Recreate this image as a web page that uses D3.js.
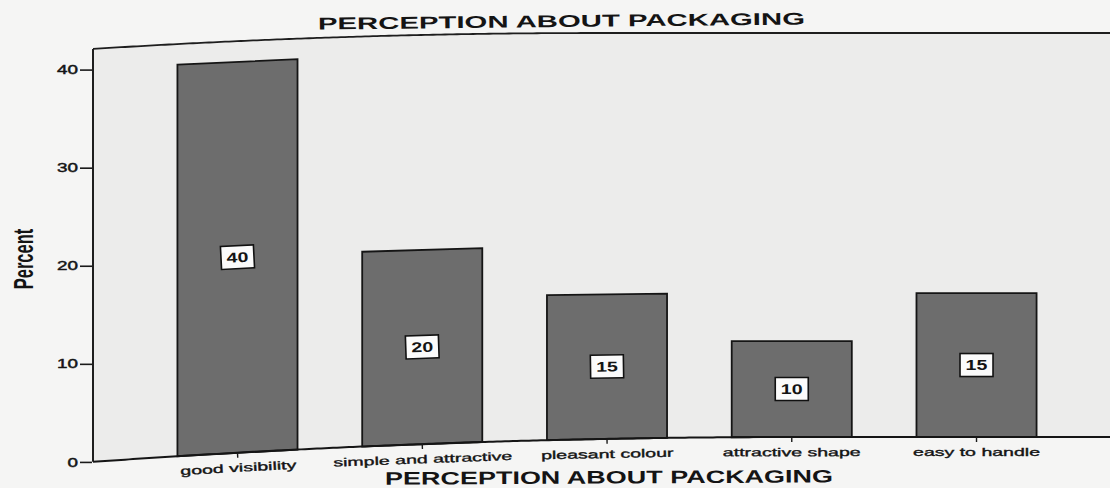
<!DOCTYPE html>
<html>
<head>
<meta charset="utf-8">
<script src="https://cdn.jsdelivr.net/npm/d3@7"></script>
<style>
  html, body { margin: 0; padding: 0; background: #f5f5f4; }
  svg { display: block; }
  text { font-family: "Liberation Sans", Arial, Helvetica, sans-serif; fill: #141414; }
</style>
</head>
<body>
<svg id="chart" width="1110" height="488"></svg>
<script>
// ---- data ----
const categories = ["good visibility", "simple and attractive", "pleasant colour", "attractive shape", "easy to handle"];
const percents = [40, 20, 15, 10, 15];
const yTicks = [0, 10, 20, 30, 40];
const chartTitle = "PERCEPTION ABOUT PACKAGING";
const xAxisTitle = "PERCEPTION ABOUT PACKAGING";
const yAxisTitle = "Percent";

// ---- layout ----
const plot = { left: 93, right: 1121, top: 33, bottom: 437 };
const svg = d3.select("#chart");

const x = d3.scaleBand()
  .domain(categories)
  .range([plot.left, plot.right])
  .paddingInner(0.35)
  .paddingOuter(0.457);

const y = d3.scaleLinear()
  .domain([0, 42.1])
  .range([plot.bottom, plot.top]);

// Gentle curl of the sheet toward its left edge: everything is shifted down
// a little more the further left it sits, the bottom edge more than the top.
function bend(px, py) {
  const t = Math.max(0, 600 - px), b = Math.max(0, 800 - px);
  const offTop = 6.2e-5 * t * t;
  const offBot = 4.97e-5 * b * b;
  return py + offTop + (offBot - offTop) * (py - plot.top) / (plot.bottom - plot.top);
}
const pt = (px, py) => [px, bend(px, py)];
const slopeAt = (px, py) => (bend(px + 1, py) - bend(px - 1, py)) / 2;
const deg = s => Math.atan(s) * 180 / Math.PI;
const line = d3.line();

function sampleX(x0, x1) {
  const xs = d3.range(x0, x1, 4);
  xs.push(x1);
  return xs;
}

// ---- plot background ----
const topEdge = sampleX(plot.left, plot.right).map(px => pt(px, plot.top));
const bottomEdge = sampleX(plot.left, plot.right).reverse().map(px => pt(px, plot.bottom));
svg.append("path")
  .attr("d", line(topEdge.concat(bottomEdge)) + "Z")
  .attr("fill", "#ececeb");

// ---- bars ----
svg.append("g").selectAll("path")
  .data(categories)
  .join("path")
  .attr("d", (d, i) => {
    const x0 = x(d), x1 = x0 + x.bandwidth();
    const v = y(percents[i]), z = y(0);
    return line([pt(x0, v), pt(x1, v), pt(x1, z), pt(x0, z)]) + "Z";
  })
  .attr("fill", "#6d6d6d")
  .attr("stroke", "#151515")
  .attr("stroke-width", 1.8)
  .attr("stroke-linejoin", "miter");

// ---- frame: top border, left border, baseline ----
svg.append("path")
  .attr("d", line(topEdge))
  .attr("fill", "none").attr("stroke", "#1e1e1e").attr("stroke-width", 1.8);
svg.append("path")
  .attr("d", line([pt(plot.left, plot.top), pt(plot.left, plot.bottom)]))
  .attr("fill", "none").attr("stroke", "#1e1e1e").attr("stroke-width", 2);
svg.append("path")
  .attr("d", line(sampleX(plot.left, plot.right).map(px => pt(px, plot.bottom))))
  .attr("fill", "none").attr("stroke", "#151515").attr("stroke-width", 2);

// ---- y axis ----
const axisX = 92;
const yAxisScale = y.copy().range([bend(axisX, plot.bottom), bend(axisX, plot.top)]);
const yStretch = 1.45;
const gy = svg.append("g")
  .attr("transform", `translate(${axisX},0)`)
  .call(d3.axisLeft(yAxisScale).tickValues(yTicks).tickSize(12).tickPadding(2).tickFormat(d3.format("d")));
gy.attr("font-family", null).attr("font-size", null);
gy.select(".domain").remove();
gy.selectAll(".tick line").attr("stroke", "#1a1a1a").attr("stroke-width", 1.6);
gy.selectAll(".tick text")
  .attr("font-size", 13)
  .attr("fill", "#141414")
  .attr("stroke", "#141414")
  .attr("stroke-width", 0.45)
  .attr("x", -14 / yStretch)
  .attr("transform", `scale(${yStretch},1)`);

// ---- x axis ----
const xStretch = 1.7;
const gx = svg.append("g")
  .call(d3.axisBottom(x).tickSize(5).tickPadding(6));
gx.attr("font-family", null).attr("font-size", null);
gx.select(".domain").remove();
gx.selectAll(".tick")
  .attr("transform", d => {
    const cx = x(d) + x.bandwidth() / 2;
    return `translate(${cx},${bend(cx, plot.bottom)}) rotate(${deg(slopeAt(cx, plot.bottom))})`;
  });
gx.selectAll(".tick line").attr("stroke", "#1a1a1a").attr("stroke-width", 1.4);
gx.selectAll(".tick text")
  .attr("font-size", 11.5)
  .attr("fill", "#141414")
  .attr("stroke", "#141414")
  .attr("stroke-width", 0.35)
  .attr("transform", `scale(${xStretch},1)`);

// ---- value labels ----
const labels = svg.append("g").selectAll("g")
  .data(categories)
  .join("g")
  .attr("transform", (d, i) => {
    const cx = x(d) + x.bandwidth() / 2;
    const cy = y(percents[i] / 2);
    return `translate(${cx},${bend(cx, cy)}) rotate(${deg(slopeAt(cx, cy))})`;
  });
labels.append("rect")
  .attr("x", -16.5).attr("y", -11.5)
  .attr("width", 33).attr("height", 23)
  .attr("fill", "#fbfbfb")
  .attr("stroke", "#111").attr("stroke-width", 1.6);
labels.append("text")
  .text((d, i) => percents[i])
  .attr("text-anchor", "middle")
  .attr("dy", "0.36em")
  .attr("font-weight", "bold")
  .attr("font-size", 14)
  .attr("transform", "scale(1.4,1)");

// ---- titles ----
svg.append("text")
  .text(chartTitle)
  .attr("transform", "translate(561.5,27) rotate(-0.6)")
  .attr("text-anchor", "middle")
  .attr("font-weight", "bold")
  .attr("font-size", 17)
  .attr("textLength", 487)
  .attr("lengthAdjust", "spacingAndGlyphs");

svg.append("text")
  .text(xAxisTitle)
  .attr("transform", "translate(609,483.5) rotate(-0.3)")
  .attr("text-anchor", "middle")
  .attr("font-weight", "bold")
  .attr("font-size", 18)
  .attr("textLength", 448)
  .attr("lengthAdjust", "spacingAndGlyphs");

svg.append("text")
  .text(yAxisTitle)
  .attr("transform", "translate(33,259) scale(1.7,1) rotate(-90)")
  .attr("text-anchor", "middle")
  .attr("font-weight", "bold")
  .attr("font-size", 16.5);
</script>
</body>
</html>
